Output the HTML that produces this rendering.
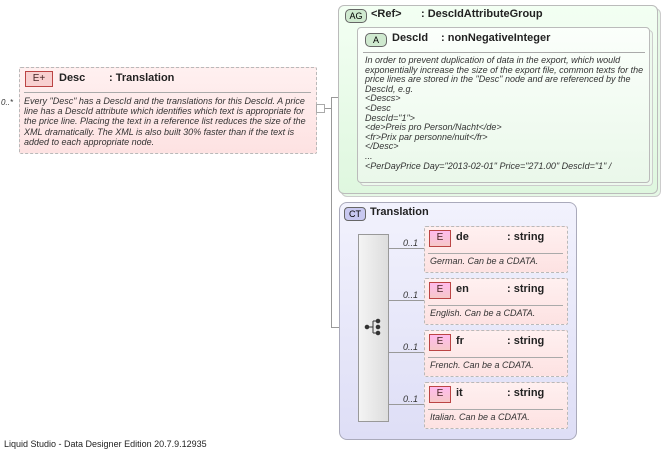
<!DOCTYPE html>
<html><head><style>
body{margin:0;width:665px;height:451px;background:#fff;font-family:"Liberation Sans",sans-serif;position:relative;overflow:hidden}
.a{position:absolute}
.t{font-size:9px;font-style:italic;color:#333;line-height:10.2px}
.h{font-size:11px;font-weight:bold;color:#222}
.e{border:1px dashed #b9b9b9;background:linear-gradient(#fff0f0,#fde2e2);border-radius:2px}
.badge{position:absolute;border:1px solid #b44;background:linear-gradient(#fbe,#f6c8c8);font-size:10px;text-align:center;color:#422;line-height:14px}
.ln{position:absolute;background:#999}
.sep{position:absolute;height:1px;background:#aaa}
</style></head><body>
<!-- Desc -->
<div class="a t" style="left:1px;top:98px;font-size:8px">0..*</div>
<div class="a e" style="left:19px;top:67px;width:296px;height:85px"></div>
<div class="badge" style="left:25px;top:71px;width:26px;height:14px;background:#f8d0d0">E+</div>
<div class="a h" style="left:59px;top:72px">Desc</div>
<div class="a h" style="left:109px;top:72px">: Translation</div>
<div class="sep" style="left:24px;top:92px;width:287px"></div>
<div class="a t" style="left:24px;top:96px;width:290px">Every "Desc" has a DescId and the translations for this DescId. A price line has a DescId attribute which identifies which text is appropriate for the price line. Placing the text in a reference list reduces the size of the XML dramatically. The XML is also built 30% faster than if the text is added to each appropriate node.</div>
<div class="a" style="left:316px;top:104px;width:7px;height:7px;border:1px solid #aaa;background:#fff"></div>
<div class="ln" style="left:325px;top:108px;width:6px;height:1px"></div>
<div class="ln" style="left:331px;top:97px;width:1px;height:231px"></div>
<div class="ln" style="left:331px;top:97px;width:26px;height:1px"></div>
<div class="ln" style="left:331px;top:327px;width:27px;height:1px"></div>
<!-- AG -->
<div class="a" style="left:341px;top:8px;width:318px;height:187px;border:1px solid #ccc;background:#e6f8e6;border-radius:6px"></div>
<div class="a" style="left:338px;top:5px;width:318px;height:187px;border:1px solid #bbb;background:linear-gradient(#f3fff3,#dff7df);border-radius:6px"></div>
<div class="a" style="left:345px;top:9px;width:20px;height:12px;border:1px solid #666;border-radius:5px;background:#cfe9cf;font-size:9px;text-align:center;line-height:12px">AG</div>
<div class="a h" style="left:371px;top:8px">&lt;Ref&gt;</div>
<div class="a h" style="left:421px;top:8px">: DescIdAttributeGroup</div>
<div class="a" style="left:360px;top:30px;width:291px;height:154px;border:1px solid #ccc;background:#eef9ee;border-radius:4px"></div>
<div class="a" style="left:357px;top:27px;width:291px;height:154px;border:1px solid #bbb;background:linear-gradient(#fbfffb,#eaf8ea);border-radius:4px"></div>
<div class="a" style="left:365px;top:33px;width:20px;height:12px;border:1px solid #666;border-radius:5px;background:#cfe9cf;font-size:9px;text-align:center;line-height:12px">A</div>
<div class="a h" style="left:392px;top:32px">DescId</div>
<div class="a h" style="left:441px;top:32px">: nonNegativeInteger</div>
<div class="sep" style="left:363px;top:52px;width:282px"></div>
<div class="a t" style="left:365px;top:56px;width:285px;line-height:9.6px">In order to prevent duplication of data in the export, which would exponentially increase the size of the export file, common texts for the price lines are stored in the "Desc" node and are referenced by the DescId, e.g.<br>&lt;Descs&gt;<br>&lt;Desc<br>DescId="1"&gt;<br>&lt;de&gt;Preis pro Person/Nacht&lt;/de&gt;<br>&lt;fr&gt;Prix par personne/nuit&lt;/fr&gt;<br>&lt;/Desc&gt;<br>...<br>&lt;PerDayPrice Day="2013-02-01" Price="271.00" DescId="1" /</div>
<!-- CT -->
<div class="a" style="left:339px;top:202px;width:236px;height:236px;border:1px solid #aab;background:linear-gradient(#f2f2fd,#dedef6);border-radius:8px"></div>
<div class="a" style="left:344px;top:207px;width:20px;height:12px;border:1px solid #666;border-radius:4px;background:#c8c8f0;font-size:9px;text-align:center;line-height:12px">CT</div>
<div class="a h" style="left:370px;top:206px">Translation</div>
<div class="a" style="left:358px;top:234px;width:29px;height:186px;border:1px solid #999;background:linear-gradient(90deg,#f4f4f4,#ddd)"></div>
<svg class="a" style="left:364px;top:318px" width="18" height="18"><g fill="#333" stroke="#333"><circle cx="3" cy="9" r="1.8"/><circle cx="14" cy="3" r="1.8"/><circle cx="14" cy="9" r="1.8"/><circle cx="14" cy="15" r="1.8"/><line x1="3" y1="9" x2="9" y2="9"/><line x1="9" y1="3" x2="9" y2="15"/><line x1="9" y1="3" x2="14" y2="3"/><line x1="9" y1="15" x2="14" y2="15"/></g></svg>
<div class="ln" style="left:388px;top:248px;width:36px;height:1px"></div>
<div class="ln" style="left:388px;top:300px;width:36px;height:1px"></div>
<div class="ln" style="left:388px;top:352px;width:36px;height:1px"></div>
<div class="ln" style="left:388px;top:404px;width:36px;height:1px"></div>
<div class="a t" style="left:403px;top:238px">0..1</div>
<div class="a t" style="left:403px;top:290px">0..1</div>
<div class="a t" style="left:403px;top:342px">0..1</div>
<div class="a t" style="left:403px;top:394px">0..1</div>

<div class="a e" style="left:424px;top:226px;width:142px;height:45px"></div>
<div class="badge" style="left:429px;top:230px;width:20px;height:15px">E</div>
<div class="a h" style="left:456px;top:231px">de</div><div class="a h" style="left:507px;top:231px">: string</div>
<div class="sep" style="left:428px;top:253px;width:135px"></div>
<div class="a t" style="left:430px;top:256px">German. Can be a CDATA.</div>

<div class="a e" style="left:424px;top:278px;width:142px;height:45px"></div>
<div class="badge" style="left:429px;top:282px;width:20px;height:15px">E</div>
<div class="a h" style="left:456px;top:283px">en</div><div class="a h" style="left:507px;top:283px">: string</div>
<div class="sep" style="left:428px;top:305px;width:135px"></div>
<div class="a t" style="left:430px;top:308px">English. Can be a CDATA.</div>

<div class="a e" style="left:424px;top:330px;width:142px;height:45px"></div>
<div class="badge" style="left:429px;top:334px;width:20px;height:15px">E</div>
<div class="a h" style="left:456px;top:335px">fr</div><div class="a h" style="left:507px;top:335px">: string</div>
<div class="sep" style="left:428px;top:357px;width:135px"></div>
<div class="a t" style="left:430px;top:360px">French. Can be a CDATA.</div>

<div class="a e" style="left:424px;top:382px;width:142px;height:45px"></div>
<div class="badge" style="left:429px;top:386px;width:20px;height:15px">E</div>
<div class="a h" style="left:456px;top:387px">it</div><div class="a h" style="left:507px;top:387px">: string</div>
<div class="sep" style="left:428px;top:409px;width:135px"></div>
<div class="a t" style="left:430px;top:412px">Italian. Can be a CDATA.</div>

<div class="a" style="left:4px;top:439px;font-size:9px;color:#222">Liquid Studio - Data Designer Edition 20.7.9.12935</div>
</body></html>
